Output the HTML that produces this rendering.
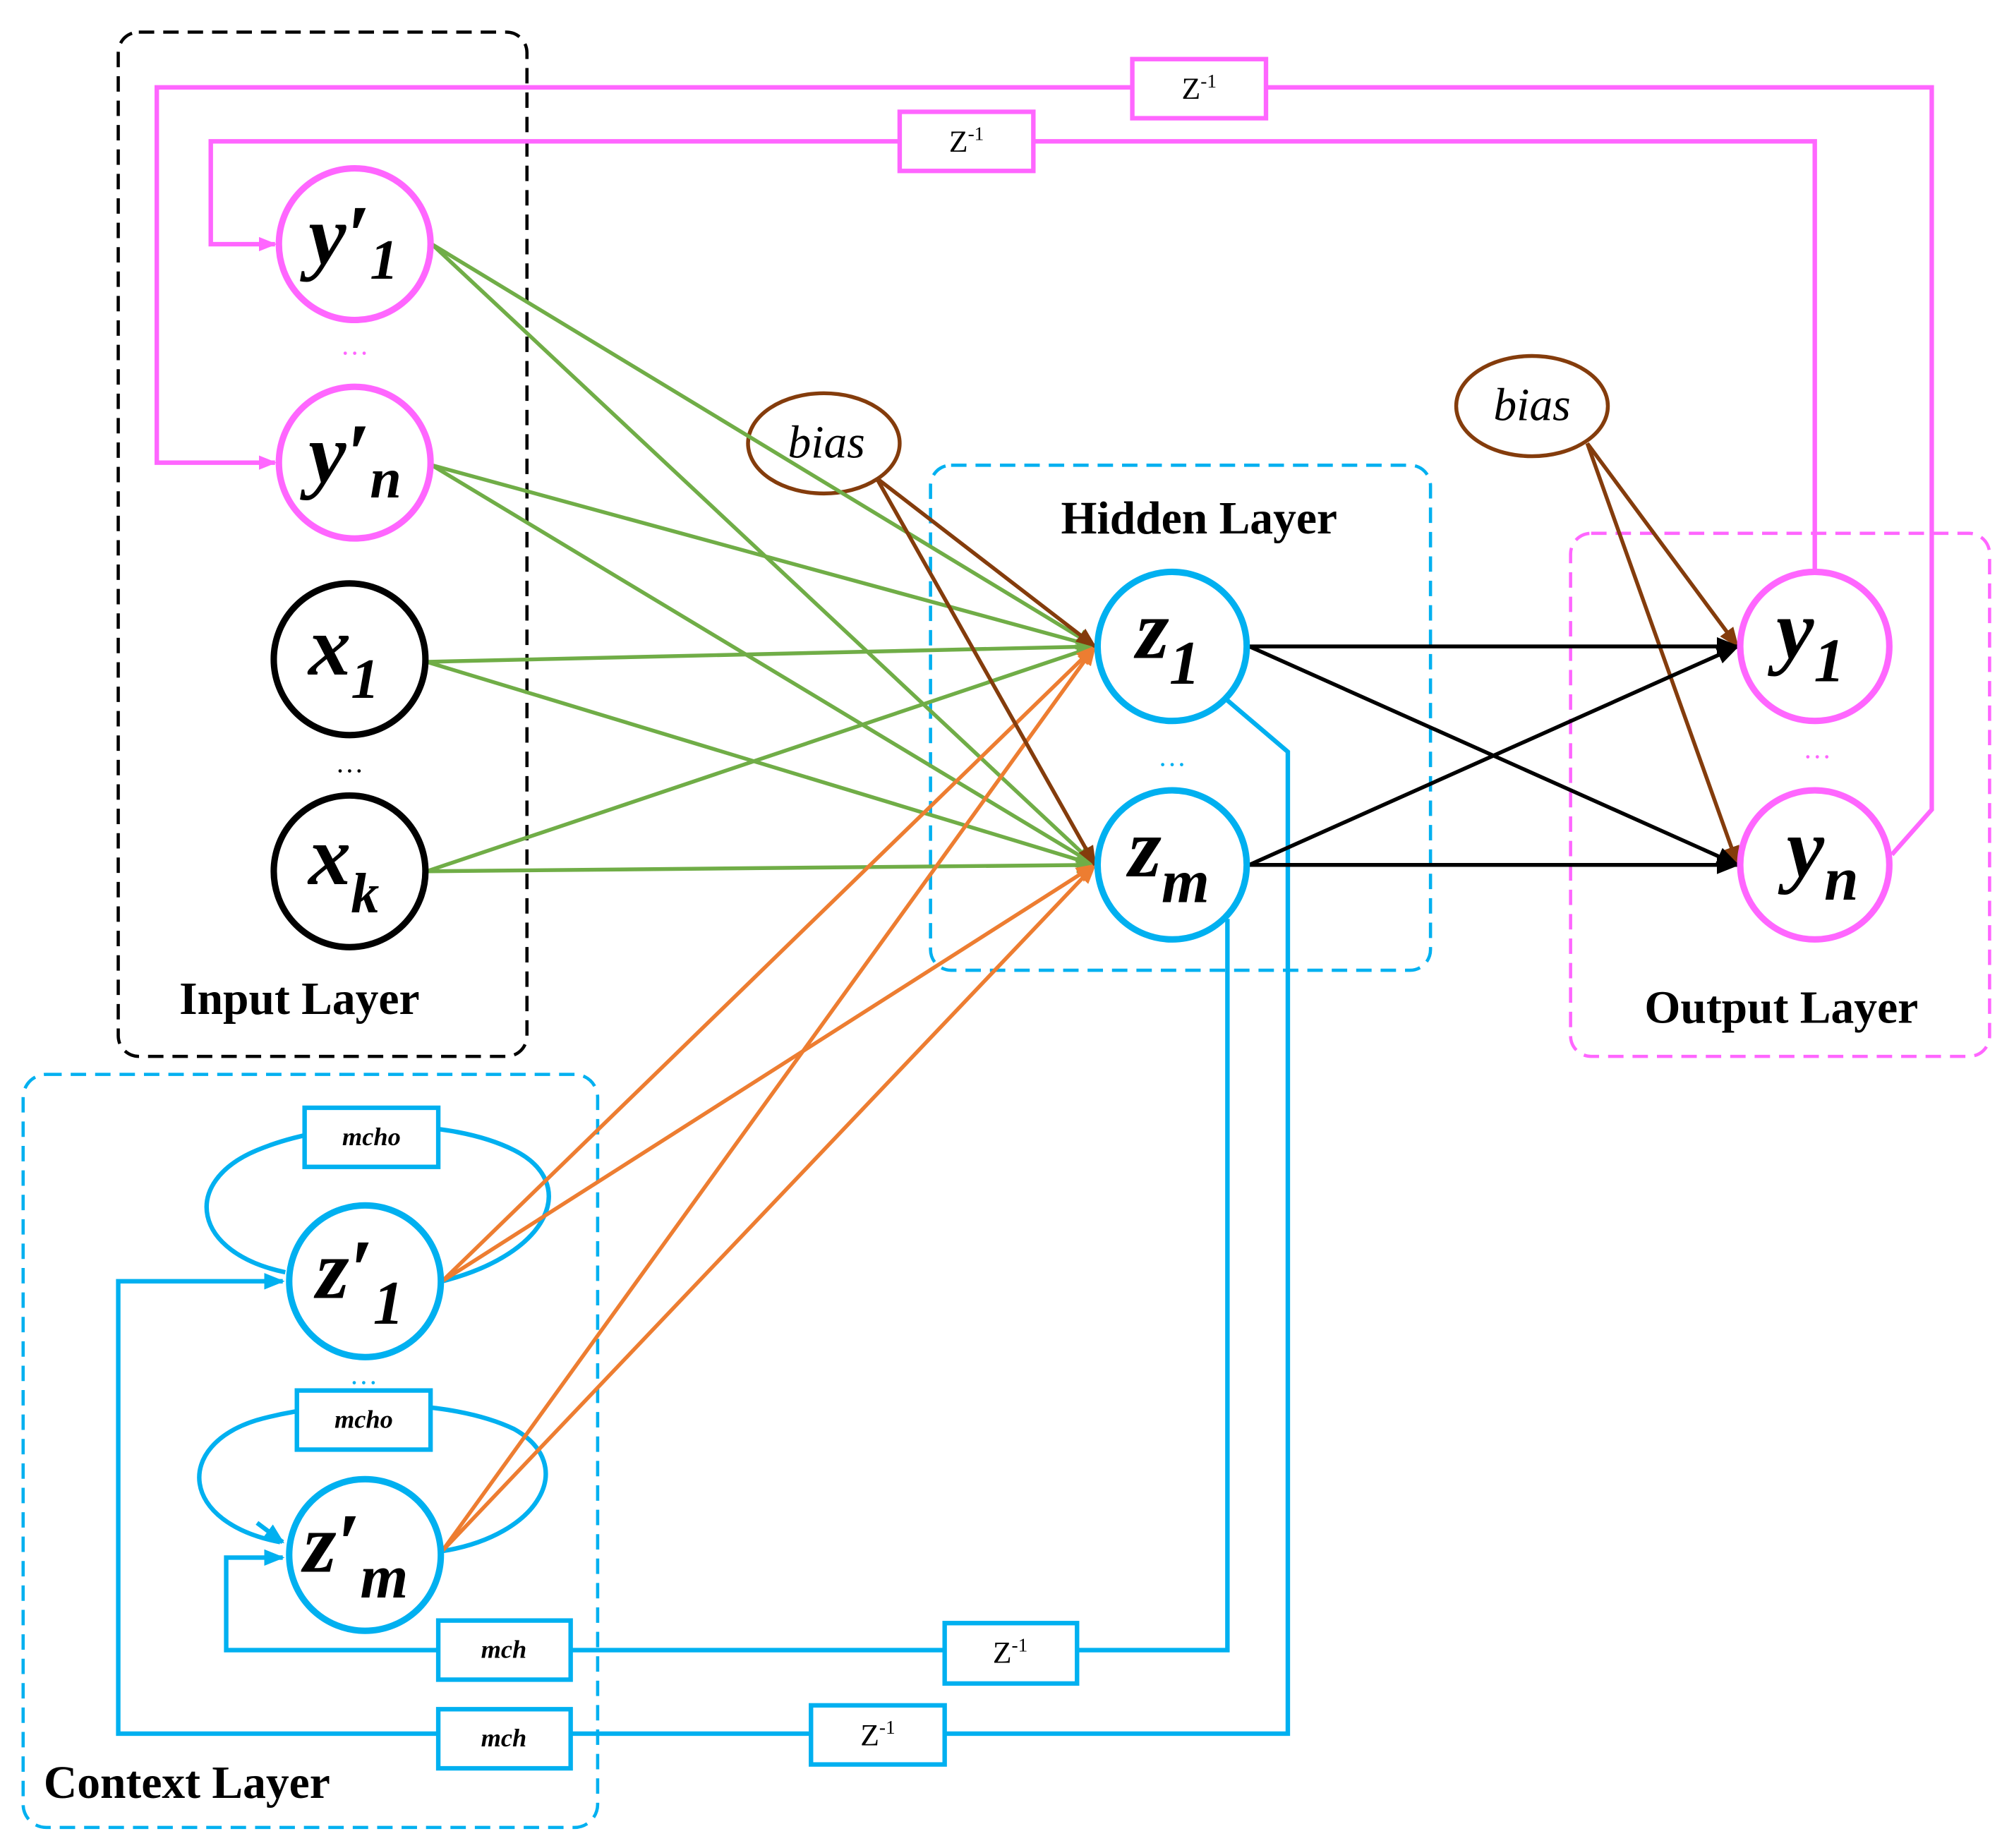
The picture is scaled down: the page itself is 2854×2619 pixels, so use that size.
<!DOCTYPE html>
<html><head><meta charset="utf-8"><style>
html,body{margin:0;padding:0;background:#fff;}
svg{display:block;}
.n{font-family:"Liberation Serif",serif;font-style:italic;font-weight:bold;}
.b{font-family:"Liberation Serif",serif;font-style:italic;font-weight:normal;font-size:36px;}
.l{font-family:"Liberation Serif",serif;font-weight:bold;font-size:36px;}
.z{font-family:"Liberation Serif",serif;font-size:24px;}
.m{font-family:"Liberation Serif",serif;font-style:italic;font-weight:bold;font-size:20px;}
</style></head><body>
<svg width="2854" height="2619" viewBox="0 0 1567 1438" preserveAspectRatio="none" xmlns="http://www.w3.org/2000/svg">
<defs>
<marker id="ak" viewBox="0 0 10 10" markerWidth="18" markerHeight="18" refX="9" refY="5" orient="auto" markerUnits="userSpaceOnUse"><path d="M0,1 L10,5 L0,9z" fill="#000"/></marker>
<marker id="ao" viewBox="0 0 10 10" markerWidth="16" markerHeight="16" refX="9" refY="5" orient="auto" markerUnits="userSpaceOnUse"><path d="M0,1 L10,5 L0,9z" fill="#ed7d31"/></marker>
<marker id="ab" viewBox="0 0 10 10" markerWidth="16" markerHeight="16" refX="9" refY="5" orient="auto" markerUnits="userSpaceOnUse"><path d="M0,1 L10,5 L0,9z" fill="#843c0c"/></marker>
<marker id="ac" viewBox="0 0 10 10" markerWidth="16" markerHeight="16" refX="9" refY="5" orient="auto" markerUnits="userSpaceOnUse"><path d="M0,1 L10,5 L0,9z" fill="#00b0f0"/></marker>
<marker id="am" viewBox="0 0 10 10" markerWidth="14" markerHeight="14" refX="9" refY="5" orient="auto" markerUnits="userSpaceOnUse"><path d="M0,1 L10,5 L0,9z" fill="#ff66ff"/></marker>
<marker id="agr" viewBox="0 0 10 10" markerWidth="16" markerHeight="16" refX="9" refY="5" orient="auto" markerUnits="userSpaceOnUse"><path d="M0,1 L10,5 L0,9z" fill="#70ad47"/></marker>
</defs>

<rect x="92" y="25" width="318" height="797" rx="16" fill="none" stroke="#000" stroke-width="2.5" stroke-dasharray="12,7"/>
<rect x="724" y="362" width="389" height="393" rx="16" fill="none" stroke="#00b0f0" stroke-width="2.5" stroke-dasharray="12,7"/>
<rect x="1222" y="415" width="326" height="407" rx="16" fill="none" stroke="#ff66ff" stroke-width="2.5" stroke-dasharray="12,7"/>
<rect x="18" y="836" width="447" height="586" rx="18" fill="none" stroke="#00b0f0" stroke-width="2.5" stroke-dasharray="12,7"/>

<g fill="none" stroke="#ff66ff" stroke-width="3.5">
<polyline points="1472,665 1503,630 1503,68 122,68 122,360 214,360" marker-end="url(#am)"/>
<polyline points="1412,445 1412,110 164,110 164,190 214,190" marker-end="url(#am)"/>
</g>
<rect x="881" y="46" width="104" height="46" fill="#fff" stroke="#ff66ff" stroke-width="3.5"/>
<text x="933" y="77" class="z" text-anchor="middle">Z<tspan dy="-9" font-size="15">-1</tspan></text>
<rect x="700" y="87" width="104" height="46" fill="#fff" stroke="#ff66ff" stroke-width="3.5"/>
<text x="752" y="118" class="z" text-anchor="middle">Z<tspan dy="-9" font-size="15">-1</tspan></text>

<g fill="none" stroke="#00b0f0" stroke-width="3.5">
<polyline points="955,545 1002,585 1002,1349 92,1349 92,997 220,997" marker-end="url(#ac)"/>
<polyline points="955,715 955,1284 176,1284 176,1212 220,1212" marker-end="url(#ac)"/>
<path d="M222,990 C150,975 140,920 200,895 C260,870 350,870 400,895 C450,920 430,975 344,997"/>
<path d="M218,1200 C140,1185 135,1125 200,1105 C260,1088 350,1088 400,1112 C450,1140 420,1195 344,1207" />
</g>
<path d="M200,1185 L220,1200" stroke="#00b0f0" stroke-width="3.5" marker-end="url(#ac)"/>
<rect x="237" y="862" width="104" height="46" fill="#fff" stroke="#00b0f0" stroke-width="3.5"/>
<text x="289" y="891" class="m" text-anchor="middle">mcho</text>
<rect x="231" y="1082" width="104" height="46" fill="#fff" stroke="#00b0f0" stroke-width="3.5"/>
<text x="283" y="1111" class="m" text-anchor="middle">mcho</text>
<rect x="341" y="1261" width="103" height="46" fill="#fff" stroke="#00b0f0" stroke-width="3.5"/>
<text x="392" y="1290" class="m" text-anchor="middle">mch</text>
<rect x="341" y="1330" width="103" height="46" fill="#fff" stroke="#00b0f0" stroke-width="3.5"/>
<text x="392" y="1359" class="m" text-anchor="middle">mch</text>
<rect x="735" y="1263" width="103" height="47" fill="#fff" stroke="#00b0f0" stroke-width="3.5"/>
<text x="786" y="1294" class="z" text-anchor="middle">Z<tspan dy="-9" font-size="15">-1</tspan></text>
<rect x="631" y="1327" width="104" height="46" fill="#fff" stroke="#00b0f0" stroke-width="3.5"/>
<text x="683" y="1358" class="z" text-anchor="middle">Z<tspan dy="-9" font-size="15">-1</tspan></text>

<ellipse cx="641" cy="345" rx="59" ry="39" fill="#fff" stroke="#843c0c" stroke-width="3"/>
<text x="643" y="356" class="b" text-anchor="middle">bias</text>
<ellipse cx="1192" cy="316" rx="59" ry="39" fill="#fff" stroke="#843c0c" stroke-width="3"/>
<text x="1192" y="327" class="b" text-anchor="middle">bias</text>

<g stroke="#70ad47" stroke-width="3" marker-end="url(#agr)">
<line x1="336" y1="190" x2="852" y2="503"/><line x1="336" y1="190" x2="852" y2="673"/>
<line x1="336" y1="362" x2="852" y2="503"/><line x1="336" y1="362" x2="852" y2="673"/>
<line x1="332" y1="515" x2="852" y2="503"/><line x1="332" y1="515" x2="852" y2="673"/>
<line x1="332" y1="678" x2="852" y2="503"/><line x1="332" y1="678" x2="852" y2="673"/>
</g>
<g stroke="#ed7d31" stroke-width="3" marker-end="url(#ao)">
<line x1="344" y1="997" x2="852" y2="503"/><line x1="344" y1="997" x2="852" y2="673"/>
<line x1="344" y1="1207" x2="852" y2="503"/><line x1="344" y1="1207" x2="852" y2="673"/>
</g>
<g stroke="#843c0c" stroke-width="3" marker-end="url(#ab)">
<line x1="682" y1="372" x2="852" y2="503"/><line x1="682" y1="372" x2="852" y2="673"/>
<line x1="1235" y1="345" x2="1352" y2="503"/><line x1="1235" y1="345" x2="1352" y2="673"/>
</g>
<g stroke="#000" stroke-width="3" marker-end="url(#ak)">
<line x1="972" y1="503" x2="1352" y2="503"/><line x1="972" y1="503" x2="1352" y2="673"/>
<line x1="972" y1="673" x2="1352" y2="503"/><line x1="972" y1="673" x2="1352" y2="673"/>
</g>

<g stroke-width="5" fill="#fff">
<circle cx="276" cy="190" r="59" stroke="#ff66ff"/>
<circle cx="276" cy="360" r="59" stroke="#ff66ff"/>
<circle cx="272" cy="513" r="59" stroke="#000"/>
<circle cx="272" cy="678" r="59" stroke="#000"/>
<circle cx="912" cy="503" r="58" stroke="#00b0f0"/>
<circle cx="912" cy="673" r="58" stroke="#00b0f0"/>
<circle cx="1412" cy="503" r="58" stroke="#ff66ff"/>
<circle cx="1412" cy="673" r="58" stroke="#ff66ff"/>
<circle cx="284" cy="997" r="59" stroke="#00b0f0"/>
<circle cx="284" cy="1210" r="59" stroke="#00b0f0"/>
</g>
<g class="n" font-size="66">
<text x="240" y="205">y′<tspan font-size="44" dy="12">1</tspan></text>
<text x="240" y="375">y′<tspan font-size="44" dy="12">n</tspan></text>
<text x="240" y="525">x<tspan font-size="44" dy="18">1</tspan></text>
<text x="240" y="688">x<tspan font-size="44" dy="22">k</tspan></text>
<text x="884" y="512">z<tspan font-size="48" dy="20">1</tspan></text>
<text x="878" y="682">z<tspan font-size="48" dy="20">m</tspan></text>
<text x="1382" y="512">y<tspan font-size="48" dy="18">1</tspan></text>
<text x="1390" y="682">y<tspan font-size="48" dy="18">n</tspan></text>
<text x="246" y="1010">z′<tspan font-size="48" dy="20">1</tspan></text>
<text x="236" y="1223">z′<tspan font-size="48" dy="20">m</tspan></text>
</g>
<g font-family="Liberation Serif,serif" font-size="22" text-anchor="middle">
<text x="276" y="276" fill="#ff66ff">…</text>
<text x="272" y="601">…</text>
<text x="912" y="596" fill="#00b0f0">…</text>
<text x="1414" y="590" fill="#ff66ff">…</text>
<text x="283" y="1077" fill="#00b0f0">…</text>
</g>

<text x="233" y="789" class="l" text-anchor="middle">Input Layer</text>
<text x="933" y="415" class="l" text-anchor="middle">Hidden Layer</text>
<text x="1386" y="796" class="l" text-anchor="middle">Output Layer</text>
<text x="34" y="1399" class="l">Context Layer</text>
</svg>
</body></html>
